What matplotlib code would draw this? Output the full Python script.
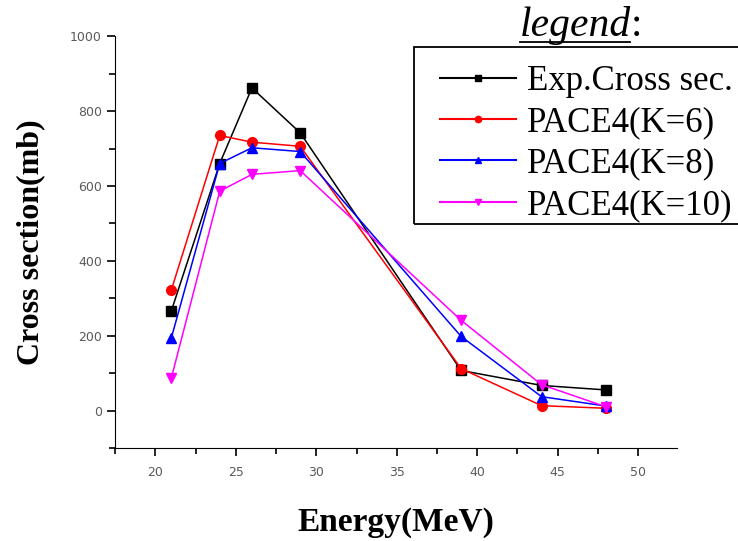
from matplotlib import pyplot as plt
from matplotlib.patches import Rectangle
from matplotlib.ticker import MultipleLocator

energy = [21, 24, 26, 29, 39, 44, 48]

exp_cs = [267, 660, 862, 742, 107, 67, 55]
pace_k6 = [323, 735, 717, 706, 112, 13, 6]
pace_k8 = [195, 660, 702, 692, 198, 37, 12]
pace_k10 = [88, 586, 631, 641, 241, 69, 10]

labels = ["Exp.Cross sec.", "PACE4(K=6)", "PACE4(K=8)", "PACE4(K=10)"]

fig = plt.figure(figsize=(7.38, 5.41), dpi=100)
ax = fig.add_axes([0.156, 0.172, 0.761, 0.761])

ax.plot(energy, exp_cs, color='black', marker='s', markersize=7, linewidth=1.1, label=labels[0])
ax.plot(energy, pace_k6, color='red', marker='o', markersize=7, linewidth=1.1, label=labels[1])
ax.plot(energy, pace_k8, color='blue', marker='^', markersize=7, linewidth=1.1, label=labels[2])
ax.plot(energy, pace_k10, color='magenta', marker='v', markersize=7, linewidth=1.1, label=labels[3])

ax.set_xlim(17.5, 52.4)
ax.set_ylim(-100, 1000)
ax.xaxis.set_major_locator(MultipleLocator(5))
ax.xaxis.set_minor_locator(MultipleLocator(2.5))
ax.yaxis.set_major_locator(MultipleLocator(200))
ax.yaxis.set_minor_locator(MultipleLocator(100))

ax.spines['top'].set_visible(False)
ax.spines['right'].set_visible(False)
ax.tick_params(which='major', direction='out', length=6, width=1.2, labelsize=9, labelcolor='#5a5a5a')
ax.tick_params(axis='x', which='major', pad=7)
ax.tick_params(which='minor', direction='out', length=4, width=1.2)

ax.set_xlabel("Energy(MeV)", family='Liberation Serif', fontweight='bold', fontsize=24, labelpad=20)
ax.set_ylabel("Cross section(mb)", family='Liberation Serif', fontweight='bold', fontsize=23, labelpad=18)

# legend entries without frame, box drawn separately (taller padding on top)
leg = fig.legend(loc='upper left', bbox_to_anchor=(0.596, 0.880), frameon=False,
                 prop={'family': 'Liberation Serif', 'size': 25},
                 handlelength=2.2, handletextpad=0.3, labelspacing=0.24, borderpad=0,
                 borderaxespad=0, markerscale=0.65)
for line in leg.get_lines():
    line.set_linewidth(1.5)
fig.add_artist(Rectangle((0.561, 0.586), 0.46, 0.327, transform=fig.transFigure,
                         fill=False, edgecolor='black', linewidth=1.3))

fig.text(0.704, 0.953, "legend", family='Liberation Serif', style='italic', fontsize=30, ha='left', va='center')
fig.text(0.855, 0.953, ":", family='Liberation Serif', fontsize=30, ha='left', va='center')
fig.add_artist(plt.Line2D([0.705, 0.853], [0.922, 0.922], color='black', linewidth=1.3))

plt.savefig("out.png", dpi=100)
